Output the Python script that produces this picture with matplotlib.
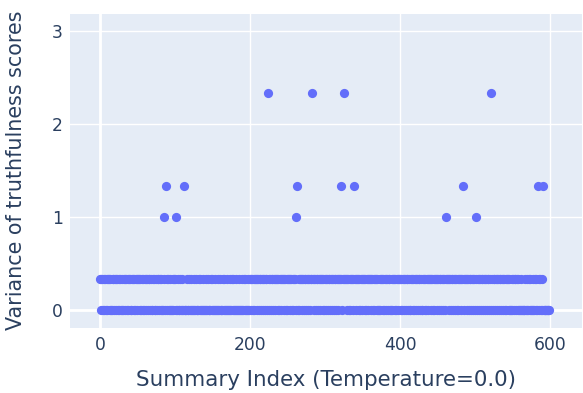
import numpy as np
import matplotlib

matplotlib.use("Agg")
import matplotlib.pyplot as plt

# base level per summary index: "1" -> variance 1/3, "0" -> variance 0
# (rows of 50 summaries, groups of 10)
base_rows = [
    "1101001101 0110100110 1011001101 0010110101 1001101011",
    "0110101100 1101011010 0110010110 1010011001 0100100101",
    "1000100101 0010001001 0100010010 0010100010 0100100010",
    "1001000100 1000101001 0001001010 0100010001 0010100100",
    "1011010110 1101101011 0110110101 1011011010 1101101101",
    "0110110101 1011010110 1101101011 0110110101 1011011010",
    "1101011011 0101101101 1010110110 1101011010 1101101011",
    "0110101101 1011010110 1001011010 1101011001 0110101101",
    "1010110101 1010011010 1101011010 0110101101 1011010110",
    "1101101011 0101101101 1010110101 1011010110 1101101011",
    "0110101101 1011010110 1101011010 1101101011 0101101001",
    "0101101010 0100000101 0010100010 1010010100 1000000000",
]

# summaries with higher variance
spike_idx = [85, 88, 101, 112, 224, 262, 263, 283, 321, 326, 339, 462, 484, 502, 521, 584, 591]
spike_val = [1.0, 4 / 3, 1.0, 4 / 3, 7 / 3, 1.0, 4 / 3, 7 / 3, 4 / 3, 7 / 3, 4 / 3, 1.0, 4 / 3, 1.0, 7 / 3, 4 / 3, 4 / 3]

codes = "".join(r.replace(" ", "") for r in base_rows)
variance = np.array([1 / 3 if c == "1" else 0.0 for c in codes])
variance[spike_idx] = spike_val
index = np.arange(len(variance))

FONT_COLOR = "#2a3f5f"
plt.rcParams["font.family"] = ["DejaVu Sans"]

fig = plt.figure(figsize=(5.83, 3.93), dpi=100)
ax = fig.add_axes([70 / 583, 1 - 327.5 / 393, 512 / 583, 314 / 393])
ax.set_facecolor("#E5ECF6")

ax.scatter(index, variance, s=44, color="#636EFA", linewidths=0, zorder=3)

ax.set_xlim(-40, 642.7)
ax.set_ylim(-0.194, 3.194)
ax.set_xticks([0, 200, 400, 600])
ax.set_yticks([0, 1, 2, 3])
ax.grid(True, color="white", lw=1.0, zorder=0)
ax.set_axisbelow(True)
ax.axhline(0, color="white", lw=2.0, zorder=1)
ax.axvline(0, color="white", lw=2.0, zorder=1)
for s in ax.spines.values():
    s.set_visible(False)
ax.tick_params(length=0, labelsize=12.3, labelcolor=FONT_COLOR)
ax.tick_params(axis="x", pad=6)
ax.tick_params(axis="y", pad=5)

ax.set_xlabel("Summary Index (Temperature=0.0)", fontsize=15.4, color=FONT_COLOR, labelpad=12)
ax.set_ylabel("Variance of truthfulness scores", fontsize=14.9, color=FONT_COLOR, labelpad=19)

fig.savefig("out.png", dpi=100)
